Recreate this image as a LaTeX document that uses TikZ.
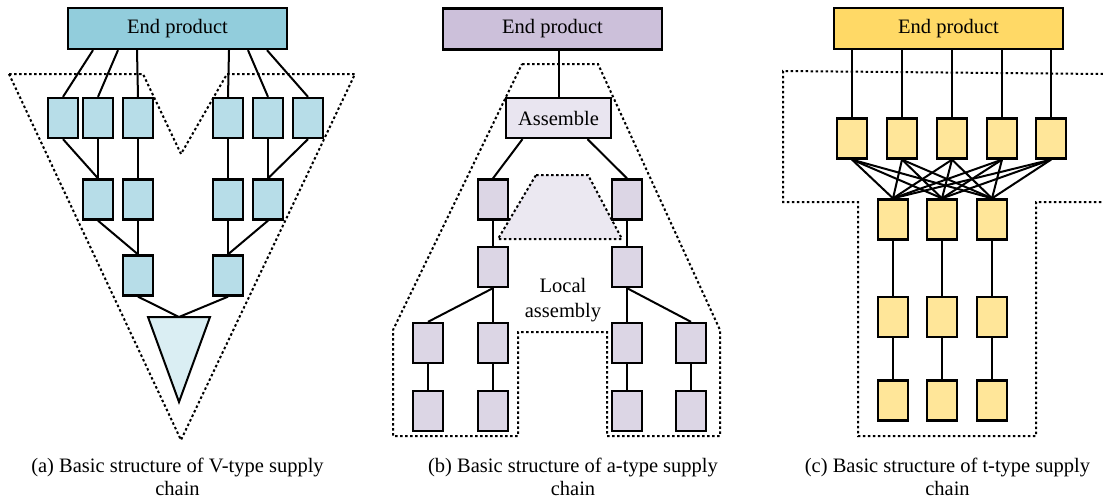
\documentclass[tikz,border=0pt]{standalone}
\usepackage{fontspec}
\setmainfont{Liberation Serif}

\definecolor{vtop}{HTML}{92CDDC}
\definecolor{vunit}{HTML}{B7DDE8}
\definecolor{vtri}{HTML}{DAEEF3}
\definecolor{atop}{HTML}{CCC0DA}
\definecolor{aasm}{HTML}{E9E5F0}
\definecolor{aunit}{HTML}{DCD6E5}
\definecolor{aloc}{HTML}{EBE8F1}
\definecolor{ttop}{HTML}{FFD966}
\definecolor{tunit}{HTML}{FFE699}

\tikzstyle{unit}=[draw,line width=2.3pt,rectangle,minimum width=30pt,minimum height=40pt,inner sep=0pt]
\tikzstyle{product}=[draw,line width=2.3pt,rectangle,minimum height=41pt,inner sep=0pt,font=\fontsize{20.5}{24}\selectfont]
\tikzstyle{edge} = [draw,line width=2pt,-]
\tikzstyle{border} = [draw,line width=2pt,dash pattern=on 2.5pt off 2.5pt]
\tikzstyle{caption} = [align=center,font=\fontsize{20.5}{23}\selectfont]

\begin{document}
\begin{tikzpicture}[x=1pt, y=-1pt]
    \useasboundingbox (0,0) rectangle (1103,498);

    % (a) V-type: dotted region first, then the units
    \path[border] (9,74) -- (143,74) -- (181,154) -- (227,74) -- (355,74) -- (181,440) -- cycle;
    \node[product,fill=vtop,minimum width=219pt] (epV) at (177.5,28.5) {End product};
    \foreach \pos/\name in {{(63,118)/va1}, {(98,118)/va2}, {(138,118)/va3}, {(228,118)/va4},
        {(268,118)/va5}, {(308,118)/va6}, {(98,199.5)/vb1}, {(138,199.5)/vb2},
        {(228,199.5)/vb3}, {(268,199.5)/vb4}, {(138,275.5)/vc1}, {(228,275.5)/vc2}}
        \node[unit,fill=vunit] (\name) at \pos {};
    \path[draw,line width=2pt,fill=vtri] (148,317) -- (210,317) -- (179,402) -- cycle;
    \coordinate (vtip) at (179,317);
    \foreach \dx/\dest in {-84.5/va1, -59.5/va2, -40.5/va3, 51.5/va4, 70.5/va5, 89.5/va6}
        \path[edge] ([xshift=\dx pt]epV.south) -- (\dest.north);
    \foreach \source/\dest in {va1/vb1, va2/vb1, va3/vb2, va4/vb3, va5/vb4, va6/vb4,
        vb1/vc1, vb2/vc1, vb3/vc2, vb4/vc2}
        \path[edge] (\source.south) -- (\dest.north);
    \path[edge] (vc1.south) -- (vtip);
    \path[edge] (vc2.south) -- (vtip);
    \node[caption] (capV) at (177.5,476.5) {(a) Basic structure of V-type supply\\chain};

    % (b) a-type
    \path[border] (522,64) -- (598,64) -- (720,330) -- (720,436) -- (607,436) -- (607,332)
        -- (518,332) -- (518,436) -- (393,436) -- (393,330) -- cycle;
    \path[border,fill=aloc] (536,175) -- (588,175) -- (622,239) -- (498,239) -- cycle;
    \node[product,fill=atop,minimum width=219pt] (epA) at (552.5,29) {End product};
    \node[product,fill=aasm,minimum width=105pt,minimum height=40pt] (asm) at (558.5,118) {Assemble};
    \foreach \pos/\name in {{(493,199.5)/aa1}, {(627,199.5)/aa2}, {(493,267)/ab1}, {(627,267)/ab2},
        {(428,343)/ac1}, {(493,343)/ac2}, {(627,343)/ac3}, {(691,343)/ac4},
        {(428,411)/ad1}, {(493,411)/ad2}, {(627,411)/ad3}, {(691,411)/ad4}}
        \node[unit,fill=aunit] (\name) at \pos {};
    \path[edge] (asm.north |- epA.south) -- (asm.north);
    \path[edge] ([xshift=-36pt]asm.south) -- (aa1.north);
    \path[edge] ([xshift=29pt]asm.south) -- (aa2.north);
    \foreach \source/\dest in {aa1/ab1, aa2/ab2, ab1/ac1, ab1/ac2, ab2/ac3, ab2/ac4,
        ac1/ad1, ac2/ad2, ac3/ad3, ac4/ad4}
        \path[edge] (\source.south) -- (\dest.north);
    \node[font=\fontsize{20.5}{25}\selectfont,align=center] (loc) at (563,300) {Local\\assembly};
    \node[caption] (capA) at (573,476.5) {(b) Basic structure of a-type supply\\chain};

    % (c) t-type
    \path[border] (1103,74) -- (783,71) -- (783,202) -- (858,202) -- (858,436) -- (1036,436)
        -- (1036,202) -- (1103,202);
    \node[product,fill=ttop,minimum width=229pt] (epT) at (948.5,28.5) {End product};
    \foreach \x [count=\i] in {852,902,952,1002,1051}
        \node[unit,fill=tunit] (ta\i) at (\x,138.5) {};
    \foreach \x [count=\i] in {893,942,992} {
        \node[unit,fill=tunit] (tb\i) at (\x,219.5) {};
        \node[unit,fill=tunit] (tc\i) at (\x,317) {};
        \node[unit,fill=tunit] (td\i) at (\x,400.5) {};
    }
    \foreach \i in {1,...,5} {
        \path[edge] (ta\i.north |- epT.south) -- (ta\i.north);
        \foreach \j in {1,2,3}
            \path[edge] (ta\i.south) -- (tb\j.north);
    }
    \foreach \j in {1,2,3} {
        \path[edge] (tb\j) -- (tc\j);
        \path[edge] (tc\j) -- (td\j);
    }
    \node[caption] (capT) at (947.5,476.5) {(c) Basic structure of t-type supply\\chain};
\end{tikzpicture}
\end{document}
